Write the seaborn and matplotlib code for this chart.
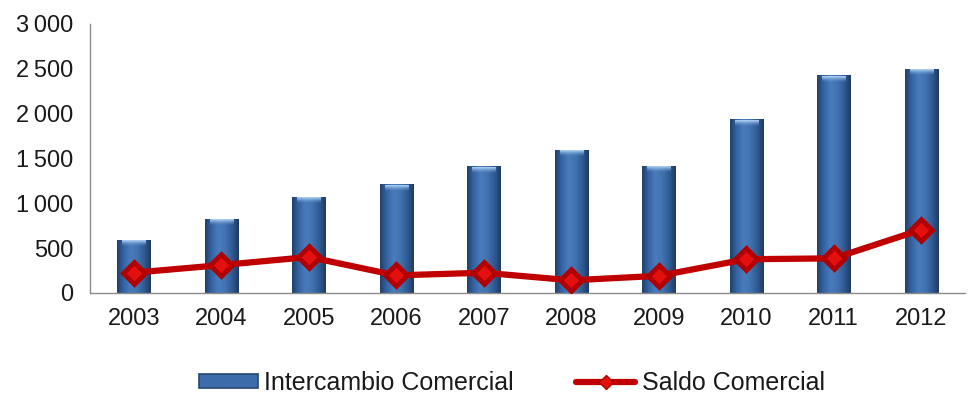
import numpy as np
import pandas as pd
import matplotlib
matplotlib.use("Agg")
import matplotlib.pyplot as plt
from matplotlib.colors import LinearSegmentedColormap
from matplotlib.lines import Line2D
from matplotlib.patches import Patch
import seaborn as sns

years = ["2003", "2004", "2005", "2006", "2007", "2008", "2009", "2010", "2011", "2012"]
intercambio = [590, 825, 1070, 1210, 1410, 1595, 1420, 1935, 2425, 2500]
saldo = [225, 310, 400, 195, 225, 140, 190, 375, 385, 705]
y_ticks = [0, 500, 1000, 1500, 2000, 2500, 3000]
y_labels = ["0", "500", "1\u2009000", "1\u2009500", "2\u2009000", "2\u2009500", "3\u2009000"]

sns.set_theme(style="white")
plt.rcParams["font.family"] = ["Liberation Sans", "DejaVu Sans"]

df = pd.DataFrame({"year": years, "intercambio": intercambio, "saldo": saldo})

fig = plt.figure(figsize=(9.71, 3.99), dpi=100)
ax = fig.add_axes([0.0927, 0.266, 0.901, 0.674])

sns.barplot(data=df, x="year", y="intercambio", color="#3d6cab", width=0.38,
            saturation=1, ax=ax, zorder=2, edgecolor="none", linewidth=0)

# horizontal shading across each column: dark edges, lighter middle
cmap = LinearSegmentedColormap.from_list(
    "col", ["#22406a", "#3563a3", "#4a7cbb", "#4172b1", "#305b93", "#1f3a62"])
cap = LinearSegmentedColormap.from_list(
    "cap", [(0.45, 0.63, 0.86, 0.0), (0.72, 0.85, 0.98, 1.0)])
grad = np.linspace(0, 1, 256).reshape(1, -1)
vgrad = np.linspace(0, 1, 64).reshape(-1, 1)
for p in ax.patches:
    x0, y0 = p.get_x(), p.get_y()
    w, h = p.get_width(), p.get_height()
    im = ax.imshow(grad, cmap=cmap, aspect="auto", extent=[x0, x0 + w, y0, y0 + h],
                   zorder=2.1, interpolation="bicubic")
    im.set_clip_path(p)
    # lighter cap near the top of each column
    ax.imshow(vgrad, cmap=cap, aspect="auto", origin="lower",
              extent=[x0 + w * 0.15, x0 + w * 0.85, y0 + h - 70, y0 + h - 12],
              zorder=2.2, interpolation="bicubic")

sns.pointplot(data=df, x="year", y="saldo", color="#c00000", markers="D",
              markersize=11, linewidth=4.5, ax=ax, zorder=3)
for ln in ax.lines:
    ln.set_markerfacecolor("#e3100f")
    ln.set_markeredgecolor("#b00000")
    ln.set_zorder(3)

ax.set_xlim(-0.5, len(years) - 0.5)
ax.set_ylim(0, 3000)
ax.set_xlabel("")
ax.set_ylabel("")
ax.set_yticks(y_ticks)
ax.set_yticklabels(y_labels)

for side in ["top", "right"]:
    ax.spines[side].set_visible(False)
for side in ["left", "bottom"]:
    ax.spines[side].set_color("#8c8c8c")
    ax.spines[side].set_linewidth(1.0)

ax.tick_params(axis="y", which="major", direction="inout", length=10, width=1,
               color="#8c8c8c", labelsize=17, labelcolor="#1a1a1a", pad=7)
ax.tick_params(axis="x", which="major", length=0, labelsize=17,
               labelcolor="#1a1a1a", pad=11)
ax.set_xticks(np.arange(0.5, len(years) - 0.5, 1), minor=True)
ax.tick_params(axis="x", which="minor", direction="out", length=7, width=1,
               color="#8c8c8c")

handles = [
    Patch(facecolor="#3d6cab", edgecolor="#27466f", linewidth=1.2),
    Line2D([0], [0], color="#c00000", lw=4.5, marker="D", markersize=7,
           markerfacecolor="#e3100f", markeredgecolor="#b00000"),
]
fig.legend(handles, ["Intercambio Comercial", "Saldo Comercial"],
           loc="center", bbox_to_anchor=(0.527, 0.04), ncol=2, frameon=False,
           fontsize=18, handlelength=2.36, handleheight=0.5, handletextpad=0.25,
           columnspacing=2.5, labelcolor="#1a1a1a")

fig.savefig("out.png", dpi=100)
